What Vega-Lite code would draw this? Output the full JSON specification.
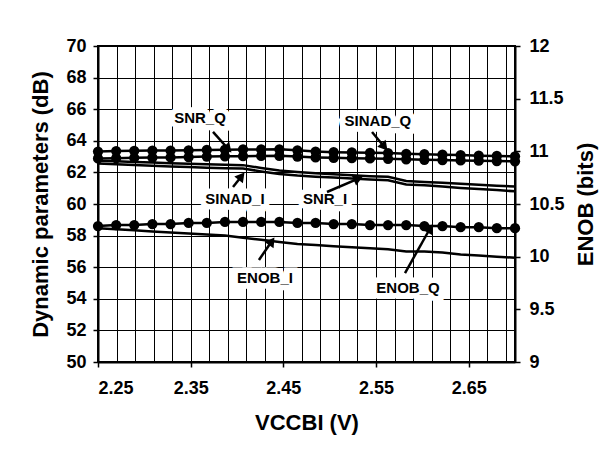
{
  "$schema": "https://vega.github.io/schema/vega-lite/v6.json",
  "width": 417,
  "height": 316,
  "autosize": {"type": "none"},
  "padding": {"left": 98, "top": 46, "right": 99, "bottom": 102},
  "background": "white",
  "config": {
    "font": "Liberation Sans",
    "view": {"stroke": "#000", "strokeWidth": 2},
    "axis": {
      "labelFont": "Liberation Sans",
      "titleFont": "Liberation Sans",
      "labelFontWeight": "bold",
      "titleFontWeight": "bold",
      "labelFontSize": 18,
      "titleFontSize": 22,
      "labelColor": "#000",
      "titleColor": "#000",
      "tickColor": "#000",
      "tickWidth": 1.5,
      "tickSize": 5,
      "domainColor": "#000",
      "domainWidth": 2,
      "gridColor": "#000",
      "gridWidth": 1,
      "gridOpacity": 1,
      "labelOverlap": false
    }
  },
  "datasets": {
    "measured": [
      {"x": 2.25, "SNR_Q": 63.32, "SINAD_Q": 62.88, "SNR_I": 62.74, "SINAD_I": 62.57, "ENOB_Q": 10.29, "ENOB_I": 10.27},
      {"x": 2.2696, "SNR_Q": 63.35, "SINAD_Q": 62.90, "SNR_I": 62.70, "SINAD_I": 62.52, "ENOB_Q": 10.30, "ENOB_I": 10.26},
      {"x": 2.2891, "SNR_Q": 63.37, "SINAD_Q": 62.92, "SNR_I": 62.66, "SINAD_I": 62.47, "ENOB_Q": 10.30, "ENOB_I": 10.25},
      {"x": 2.3087, "SNR_Q": 63.38, "SINAD_Q": 62.94, "SNR_I": 62.62, "SINAD_I": 62.42, "ENOB_Q": 10.31, "ENOB_I": 10.24},
      {"x": 2.3283, "SNR_Q": 63.38, "SINAD_Q": 62.95, "SNR_I": 62.58, "SINAD_I": 62.38, "ENOB_Q": 10.31, "ENOB_I": 10.23},
      {"x": 2.3478, "SNR_Q": 63.40, "SINAD_Q": 62.97, "SNR_I": 62.55, "SINAD_I": 62.34, "ENOB_Q": 10.32, "ENOB_I": 10.22},
      {"x": 2.3674, "SNR_Q": 63.42, "SINAD_Q": 63.00, "SNR_I": 62.52, "SINAD_I": 62.30, "ENOB_Q": 10.32, "ENOB_I": 10.21},
      {"x": 2.387, "SNR_Q": 63.44, "SINAD_Q": 63.02, "SNR_I": 62.49, "SINAD_I": 62.27, "ENOB_Q": 10.33, "ENOB_I": 10.20},
      {"x": 2.4065, "SNR_Q": 63.45, "SINAD_Q": 63.03, "SNR_I": 62.46, "SINAD_I": 62.24, "ENOB_Q": 10.33, "ENOB_I": 10.18},
      {"x": 2.4261, "SNR_Q": 63.45, "SINAD_Q": 63.04, "SNR_I": 62.28, "SINAD_I": 62.06, "ENOB_Q": 10.33, "ENOB_I": 10.16},
      {"x": 2.4457, "SNR_Q": 63.46, "SINAD_Q": 63.05, "SNR_I": 62.12, "SINAD_I": 61.90, "ENOB_Q": 10.33, "ENOB_I": 10.14},
      {"x": 2.4652, "SNR_Q": 63.40, "SINAD_Q": 63.00, "SNR_I": 62.02, "SINAD_I": 61.80, "ENOB_Q": 10.32, "ENOB_I": 10.12},
      {"x": 2.4848, "SNR_Q": 63.32, "SINAD_Q": 62.95, "SNR_I": 61.94, "SINAD_I": 61.73, "ENOB_Q": 10.32, "ENOB_I": 10.11},
      {"x": 2.5043, "SNR_Q": 63.28, "SINAD_Q": 62.92, "SNR_I": 61.88, "SINAD_I": 61.67, "ENOB_Q": 10.31, "ENOB_I": 10.10},
      {"x": 2.5239, "SNR_Q": 63.26, "SINAD_Q": 62.90, "SNR_I": 61.82, "SINAD_I": 61.61, "ENOB_Q": 10.31, "ENOB_I": 10.09},
      {"x": 2.5435, "SNR_Q": 63.24, "SINAD_Q": 62.88, "SNR_I": 61.76, "SINAD_I": 61.55, "ENOB_Q": 10.30, "ENOB_I": 10.08},
      {"x": 2.563, "SNR_Q": 63.22, "SINAD_Q": 62.86, "SNR_I": 61.72, "SINAD_I": 61.50, "ENOB_Q": 10.30, "ENOB_I": 10.07},
      {"x": 2.5826, "SNR_Q": 63.18, "SINAD_Q": 62.83, "SNR_I": 61.45, "SINAD_I": 61.24, "ENOB_Q": 10.30, "ENOB_I": 10.05},
      {"x": 2.6022, "SNR_Q": 63.15, "SINAD_Q": 62.80, "SNR_I": 61.40, "SINAD_I": 61.18, "ENOB_Q": 10.29, "ENOB_I": 10.05},
      {"x": 2.6217, "SNR_Q": 63.12, "SINAD_Q": 62.78, "SNR_I": 61.34, "SINAD_I": 61.10, "ENOB_Q": 10.29, "ENOB_I": 10.04},
      {"x": 2.6413, "SNR_Q": 63.10, "SINAD_Q": 62.76, "SNR_I": 61.28, "SINAD_I": 61.02, "ENOB_Q": 10.28, "ENOB_I": 10.02},
      {"x": 2.6609, "SNR_Q": 63.06, "SINAD_Q": 62.74, "SNR_I": 61.22, "SINAD_I": 60.95, "ENOB_Q": 10.28, "ENOB_I": 10.01},
      {"x": 2.6804, "SNR_Q": 63.04, "SINAD_Q": 62.72, "SNR_I": 61.16, "SINAD_I": 60.88, "ENOB_Q": 10.27, "ENOB_I": 10.00},
      {"x": 2.7, "SNR_Q": 63.02, "SINAD_Q": 62.70, "SNR_I": 61.10, "SINAD_I": 60.80, "ENOB_Q": 10.27, "ENOB_I": 9.99}
    ],
    "notes": [
      {"label": "SNR_Q", "x": 2.3601, "db": 65.44},
      {"label": "SINAD_Q", "x": 2.5521, "db": 65.25},
      {"label": "SINAD_I", "x": 2.3978, "db": 60.32},
      {"label": "SNR_I", "x": 2.495, "db": 60.32},
      {"label": "ENOB_I", "x": 2.4302, "db": 55.32},
      {"label": "ENOB_Q", "x": 2.5845, "db": 54.68}
    ],
    "arrows": [
      {"label": "SNR_Q", "x": 2.3906, "db": 63.48, "tx": 2.3741, "tdb": 64.56},
      {"label": "SINAD_Q", "x": 2.5591, "db": 63.61, "tx": 2.5457, "tdb": 64.56},
      {"label": "SINAD_I", "x": 2.4049, "db": 61.76, "tx": 2.3957, "tdb": 61.08},
      {"label": "SNR_I", "x": 2.5309, "db": 61.61, "tx": 2.4971, "tdb": 60.76},
      {"label": "ENOB_I", "x": 2.4375, "db": 57.64, "tx": 2.4237, "tdb": 56.46},
      {"label": "ENOB_Q", "x": 2.6083, "db": 58.45, "tx": 2.5813, "tdb": 55.63}
    ]
  },
  "layer": [
    {
      "encoding": {
        "x": {
          "field": "x", "type": "quantitative", "title": "VCCBI (V)",
          "scale": {"domain": [2.25, 2.7], "nice": false, "zero": false},
          "axis": {
            "values": [2.25, 2.27, 2.29, 2.31, 2.33, 2.35, 2.37, 2.39, 2.41, 2.43, 2.45, 2.47, 2.49, 2.51, 2.53, 2.55, 2.57, 2.59, 2.61, 2.63, 2.65, 2.67, 2.69],
            "grid": true,
            "labelExpr": "round((datum.value - 2.25) * 100) % 10 === 0 ? format(datum.value, '.2f') : ''",
            "tickOpacity": {"condition": {"test": "round((datum.value - 2.25) * 100) % 10 === 0", "value": 1}, "value": 0},
            "labelPadding": 12,
            "titlePadding": 15
          }
        },
        "y": {
          "field": "db", "type": "quantitative", "title": "Dynamic parameters (dB)",
          "scale": {"domain": [50, 70], "nice": false, "zero": false},
          "axis": {
            "orient": "left",
            "values": [50, 52, 54, 56, 58, 60, 62, 64, 66, 68, 70],
            "format": "d",
            "grid": true,
            "labelPadding": 7,
            "titlePadding": 13
          }
        }
      },
      "layer": [
        {
          "data": {"name": "measured"},
          "transform": [{"fold": ["SNR_Q", "SINAD_Q", "SNR_I", "SINAD_I"], "as": ["series", "db"]}],
          "mark": {"type": "line", "color": "#000", "strokeWidth": 2.5},
          "encoding": {"detail": {"field": "series"}}
        },
        {
          "data": {"name": "measured"},
          "transform": [{"fold": ["SNR_Q", "SINAD_Q"], "as": ["series", "db"]}],
          "mark": {"type": "point", "shape": "circle", "filled": true, "size": 105, "color": "#000", "opacity": 1},
          "encoding": {"detail": {"field": "series"}}
        },
        {
          "data": {"name": "notes"},
          "mark": {"type": "text", "fontSize": 15, "fontWeight": "bold", "font": "Liberation Sans", "align": "center", "baseline": "middle", "color": "#fff", "stroke": "#fff", "strokeWidth": 11, "strokeJoin": "miter"},
          "encoding": {"text": {"field": "label"}}
        },
        {
          "data": {"name": "arrows"},
          "mark": {"type": "rule", "color": "#000", "strokeWidth": 2.5},
          "encoding": {"x2": {"field": "tx"}, "y2": {"field": "tdb"}}
        },
        {
          "data": {"name": "arrows"},
          "transform": [
            {"calculate": "atan2((datum.x - datum.tx) * 926.7, (datum.db - datum.tdb) * 15.8) * 180 / PI", "as": "ang"}
          ],
          "mark": {"type": "point", "shape": "triangle-up", "filled": true, "size": 120, "color": "#000", "opacity": 1},
          "encoding": {"angle": {"field": "ang", "type": "quantitative", "scale": null}}
        },
        {
          "data": {"name": "notes"},
          "mark": {"type": "text", "fontSize": 15, "fontWeight": "bold", "font": "Liberation Sans", "align": "center", "baseline": "middle", "color": "#000"},
          "encoding": {"text": {"field": "label"}}
        }
      ]
    },
    {
      "data": {"name": "measured"},
      "encoding": {
        "x": {
          "field": "x", "type": "quantitative", "title": "VCCBI (V)",
          "scale": {"domain": [2.25, 2.7], "nice": false, "zero": false},
          "axis": {
            "values": [2.25, 2.27, 2.29, 2.31, 2.33, 2.35, 2.37, 2.39, 2.41, 2.43, 2.45, 2.47, 2.49, 2.51, 2.53, 2.55, 2.57, 2.59, 2.61, 2.63, 2.65, 2.67, 2.69],
            "grid": true,
            "labelExpr": "round((datum.value - 2.25) * 100) % 10 === 0 ? format(datum.value, '.2f') : ''",
            "tickOpacity": {"condition": {"test": "round((datum.value - 2.25) * 100) % 10 === 0", "value": 1}, "value": 0},
            "labelPadding": 12,
            "titlePadding": 15
          }
        },
        "y": {
          "field": "bits", "type": "quantitative", "title": "ENOB (bits)",
          "scale": {"domain": [9, 12], "nice": false, "zero": false},
          "axis": {
            "orient": "right",
            "values": [9, 9.5, 10, 10.5, 11, 11.5, 12],
            "format": "~g",
            "grid": false,
            "labelPadding": 9,
            "titlePadding": 11,
            "titleAngle": 270,
            "titleBaseline": "top"
          }
        }
      },
      "layer": [
        {
          "transform": [{"fold": ["ENOB_Q", "ENOB_I"], "as": ["series", "bits"]}],
          "mark": {"type": "line", "color": "#000", "strokeWidth": 2.5},
          "encoding": {"detail": {"field": "series"}}
        },
        {
          "transform": [{"fold": ["ENOB_Q"], "as": ["series", "bits"]}],
          "mark": {"type": "point", "shape": "circle", "filled": true, "size": 105, "color": "#000", "opacity": 1}
        }
      ]
    }
  ],
  "resolve": {"scale": {"y": "independent"}}
}
